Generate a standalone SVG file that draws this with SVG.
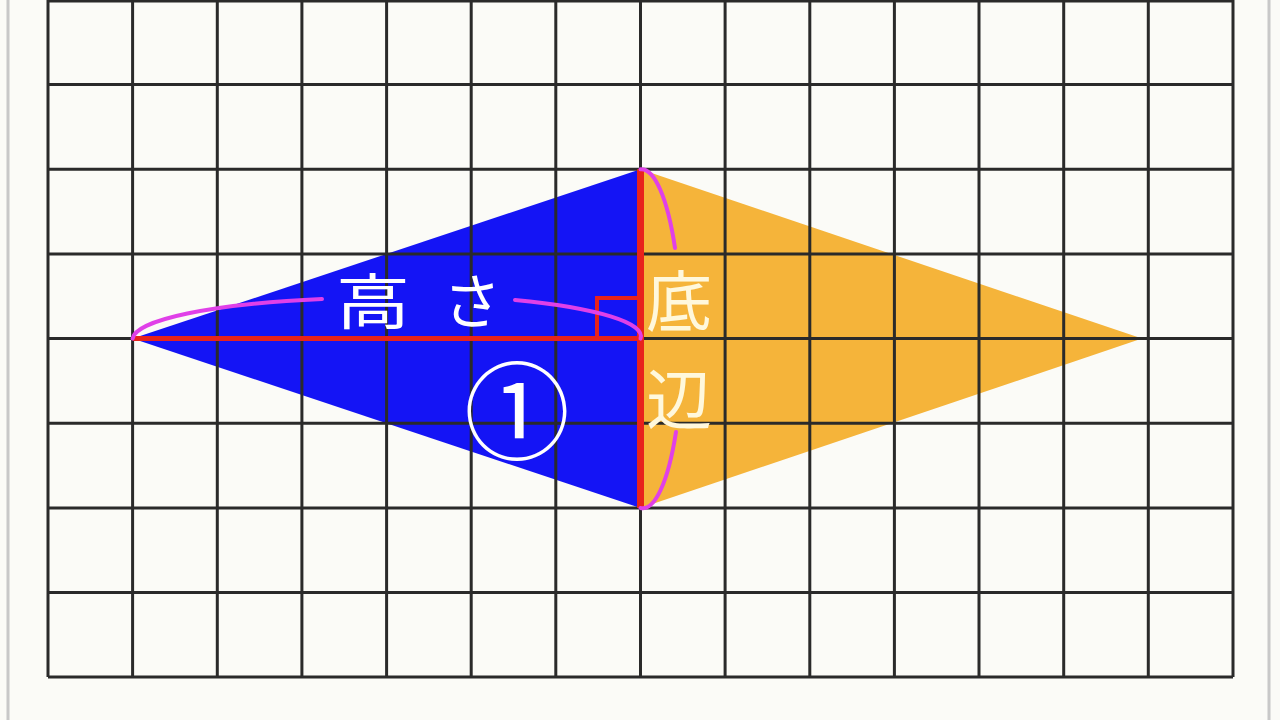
<svg xmlns="http://www.w3.org/2000/svg" width="1280" height="720" viewBox="0 0 1280 720">
<defs>
<style>
.grid{stroke:#2a2a2a;stroke-width:3;fill:none}
.red{stroke:#e8221c;fill:none}
.mag{stroke:#e040e8;stroke-width:4;fill:none;stroke-linecap:round}
.lbl{font-family:"Noto Sans CJK JP","Noto Sans",sans-serif;fill:#ffffff;font-weight:400}
.lblc{font-family:"Noto Sans CJK JP","Noto Sans",sans-serif;fill:#fff8dc;font-weight:400}
</style>
</defs>
<rect width="1280" height="720" fill="#fbfbf7"/>
<line x1="8" y1="0" x2="8" y2="720" stroke="#c8c8c8" stroke-width="3"/>
<line x1="1269" y1="0" x2="1269" y2="720" stroke="#c8c8c8" stroke-width="3"/>
<g id="shapes">
<polygon points="132.6,338.6 640.5,169.3 640.5,508" fill="#1414f5"/>
<polygon points="640.5,169.3 1142,338.6 640.5,508" fill="#f5b43a"/>
</g>
<g id="grid" class="grid">
<path d="M48,0V677M132.6,0V677M217.3,0V677M301.9,0V677M386.6,0V677M471.2,0V677M555.8,0V677M640.5,0V677M725.1,0V677M809.8,0V677M894.4,0V677M979,0V677M1063.7,0V677M1148.3,0V677M1233,0V677"/>
<path d="M48,1H1233M48,84.6H1233M48,169.3H1233M48,254H1233M48,338.6H1233M48,423.3H1233M48,508H1233M48,592.6H1233M48,677H1233"/>
</g>
<g id="connectors">
<line class="red" x1="132.6" y1="338.6" x2="640.5" y2="338.6" stroke-width="5"/>
<line class="red" x1="640.5" y1="169.3" x2="640.5" y2="508" stroke-width="7"/>
<path class="red" d="M597,338.6V298H640.5" stroke-width="4"/>
<path class="mag" d="M132.6,338.6 A254,42 0 0 1 322,299"/>
<path class="mag" d="M515,300 A254,42 0 0 1 640.5,338.6"/>
<path class="mag" d="M640.5,169.3 A40,169.3 0 0 1 675,248"/>
<path class="mag" d="M676,432 A40,169.3 0 0 1 640.5,508"/>
</g>
<g id="label-height"><text class="lbl" x="336" y="324" font-size="60" textLength="74" lengthAdjust="spacingAndGlyphs">高</text><text class="lbl" x="443" y="324" font-size="60" textLength="58" lengthAdjust="spacingAndGlyphs">さ</text></g>
<g id="label-one"><text class="lbl" x="517" y="451" font-size="106" text-anchor="middle">①</text></g>
<g id="label-base"><text class="lblc" x="646" y="326" font-size="66">底</text><text class="lblc" x="646" y="424" font-size="66">辺</text></g>
</svg>
